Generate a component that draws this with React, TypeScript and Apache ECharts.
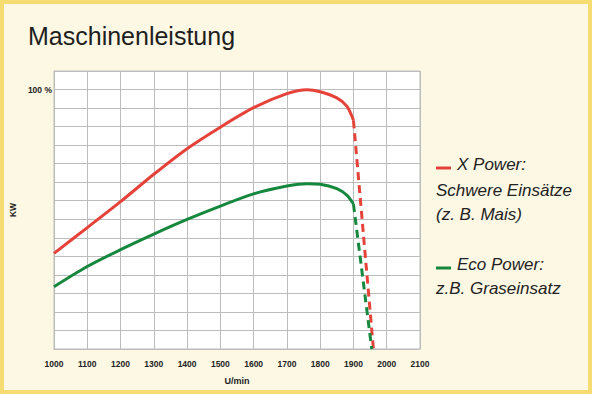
import React, { useEffect, useRef } from "react";
import * as echarts from "echarts";

// engine speed (U/min) for the solid curves
const rpm = [1000, 1100, 1200, 1300, 1400, 1500, 1600, 1700, 1760, 1800, 1850, 1880, 1900];
// power in grid units (14 = 100 %)
const xPower = [5.16, 6.55, 7.95, 9.43, 10.81, 11.97, 13.02, 13.78, 13.99, 13.88, 13.55, 13.1, 12.34];
const ecoPower = [3.36, 4.45, 5.36, 6.2, 6.99, 7.71, 8.37, 8.79, 8.92, 8.89, 8.65, 8.3, 7.82];
// cut-off (dashed) segments
const xPowerCutRpm = [1900, 1960];
const xPowerCut = [12.34, 0];
const ecoCutRpm = [1900, 1955];
const ecoCut = [7.82, 0];

const xTicks = { min: 1000, max: 2100, step: 100 };
const yTicks = { min: 0, max: 15, step: 1, hundred: 14 };

const legendLines = [
  { text: "X Power:", dash: true, color: "#e5423a" },
  { text: "Schwere Einsätze", dash: false, color: "" },
  { text: "(z. B. Mais)", dash: false, color: "" },
  { text: "Eco Power:", dash: true, color: "#16883d" },
  { text: "z.B. Graseinsatz", dash: false, color: "" },
];

const RED = "#e5423a";
const GREEN = "#16883d";
const GRID = "#bcbcbc";

export default function App() {
  const ref = useRef<HTMLDivElement>(null);
  useEffect(() => {
    document.body.style.margin = "0";
    if (!ref.current) return;
    const chart = echarts.init(ref.current, undefined, { renderer: "svg" });
    const pair = (xs: number[], ys: number[]) => xs.map((x, i) => [x, ys[i]]);
    const baselines = [173, 199, 223, 273, 297];
    const legendGraphics: any[] = [];
    legendLines.forEach((l, i) => {
      if (l.dash) {
        legendGraphics.push({
          type: "rect",
          shape: { x: 436, y: baselines[i] - 6.5, width: 15, height: 3 },
          style: { fill: l.color },
        });
      }
      legendGraphics.push({
        type: "text",
        x: l.dash ? 457 : 436,
        y: baselines[i],
        style: {
          text: l.text,
          fontFamily: "Liberation Sans, Arial, sans-serif",
          fontStyle: "italic",
          fontSize: 17,
          fill: "#222",
          verticalAlign: "bottom",
        },
      });
    });
    chart.setOption({
      animation: false,
      backgroundColor: "#fdf8e4",
      textStyle: { fontFamily: "Liberation Sans, Arial, sans-serif" },
      graphic: [
        {
          type: "rect",
          shape: { x: 2, y: 2, width: 588, height: 390 },
          style: { fill: "none", stroke: "#f6dc72", lineWidth: 4 },
          silent: true,
        },
        {
          type: "text",
          x: 28,
          y: 23,
          style: {
            text: "Maschinenleistung",
            fontFamily: "Liberation Sans, Arial, sans-serif",
            fontSize: 25,
            fill: "#1e1e1e",
          },
        },
        ...legendGraphics,
      ],
      grid: {
        left: 46,
        top: 71,
        right: 172,
        bottom: 45,
        show: true,
        backgroundColor: "#ffffff",
        borderColor: GRID,
        borderWidth: 1,
      },
      xAxis: {
        type: "value",
        min: xTicks.min,
        max: xTicks.max,
        interval: xTicks.step,
        name: "U/min",
        nameLocation: "middle",
        nameGap: 27,
        nameTextStyle: { fontSize: 9, fontWeight: "bold", color: "#222" },
        axisLine: { show: true, lineStyle: { color: GRID } },
        axisTick: { show: false },
        axisLabel: {
          fontSize: 8.5,
          fontWeight: "bold",
          color: "#222",
          margin: 10,
          formatter: (v: number) => String(v),
        },
        splitLine: { show: true, lineStyle: { color: GRID, width: 1 } },
      },
      yAxis: {
        type: "value",
        min: yTicks.min,
        max: yTicks.max,
        interval: yTicks.step,
        name: "KW",
        nameLocation: "middle",
        nameGap: 17,
        nameTextStyle: { fontSize: 8.5, fontWeight: "bold", color: "#222" },
        axisLine: { show: true, lineStyle: { color: GRID } },
        axisTick: { show: false },
        axisLabel: {
          fontSize: 8.5,
          fontWeight: "bold",
          color: "#222",
          margin: 2,
          formatter: (v: number) => (v === yTicks.hundred ? "100 %" : ""),
        },
        splitLine: { show: true, lineStyle: { color: GRID, width: 1 } },
      },
      series: [
        {
          type: "line",
          data: pair(rpm, xPower),
          smooth: 0.3,
          symbol: "none",
          lineStyle: { color: RED, width: 3 },
        },
        {
          type: "line",
          data: pair(xPowerCutRpm, xPowerCut),
          symbol: "none",
          lineStyle: { color: RED, width: 3, type: [8, 5] },
        },
        {
          type: "line",
          data: pair(rpm, ecoPower),
          smooth: 0.3,
          symbol: "none",
          lineStyle: { color: GREEN, width: 3 },
        },
        {
          type: "line",
          data: pair(ecoCutRpm, ecoCut),
          symbol: "none",
          lineStyle: { color: GREEN, width: 3, type: [8, 5] },
        },
      ],
    });
    return () => chart.dispose();
  }, []);
  return <div ref={ref} style={{ width: 592, height: 394 }} />;
}
